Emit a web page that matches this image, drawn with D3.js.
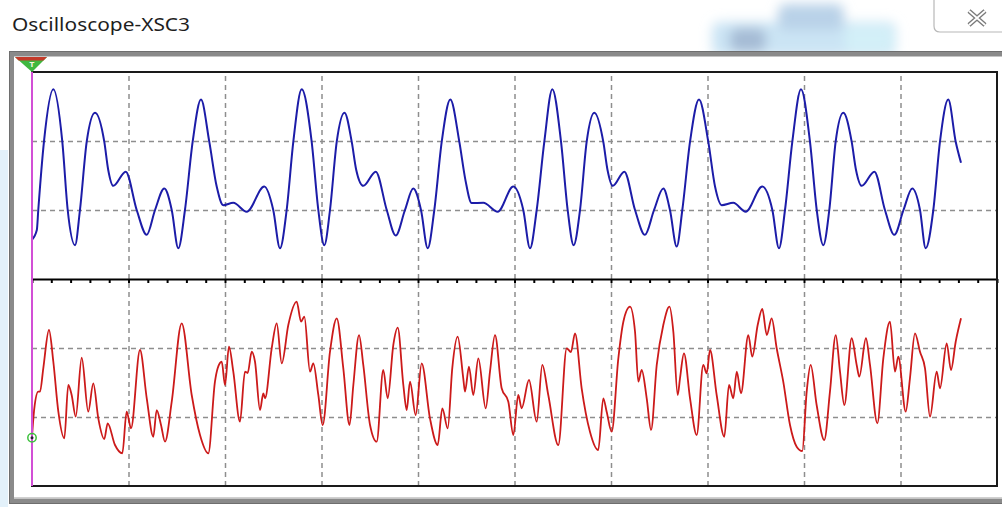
<!DOCTYPE html>
<html><head><meta charset="utf-8">
<script src="https://cdn.jsdelivr.net/npm/d3@7"></script>
<style>html,body{margin:0;padding:0;background:#fff;overflow:hidden}</style>
</head><body>
<svg id="c" width="1002" height="507"></svg>
<script>
// ---------- data (time in divisions, amplitude in divisions) ----------
const titleText = "Oscilloscope-XSC3";
const timeDivisions = [0, 10];
const ampDivisions = [-3, 3];
const gridTimes = [1, 2, 3, 4, 5, 6, 7, 8, 9];
const gridAmps = [-2, -1, 1, 2];
const channelBGround = -2.3;

const channelA = [
 [0,0.57],[0.05,0.71],[0.065,1.0],[0.124,1.99],[0.221,2.75],[0.314,1.99],[0.37,1.0],[0.446,0.49],
 [0.497,1.0],[0.567,1.99],[0.653,2.41],[0.749,1.99],[0.79,1.58],[0.842,1.35],[0.971,1.555],[1.085,1.0],
 [1.189,0.64],[1.275,1.0],[1.371,1.31],[1.448,1.0],[1.516,0.445],[1.585,1.0],[1.665,1.99],[1.751,2.6],
 [1.837,1.99],[1.914,1.34],[1.982,1.07],[2.086,1.105],[2.225,0.975],[2.407,1.34],[2.5,1.0],[2.57,0.445],
 [2.639,1.0],[2.708,1.99],[2.795,2.75],[2.898,1.99],[2.967,1.0],[3.029,0.49],[3.088,1.0],[3.158,1.99],
 [3.238,2.41],[3.313,1.99],[3.36,1.58],[3.433,1.35],[3.562,1.555],[3.676,1.0],[3.769,0.63],[3.865,1.0],
 [3.951,1.31],[4.031,1.0],[4.101,0.445],[4.169,1.0],[4.246,1.99],[4.335,2.6],[4.428,1.99],[4.492,1.43],
 [4.556,1.1],[4.677,1.105],[4.826,0.975],[4.988,1.34],[5.091,1.0],[5.161,0.445],[5.23,1.0],[5.309,1.99],
 [5.392,2.75],[5.482,1.99],[5.551,1.0],[5.613,0.49],[5.679,1.0],[5.748,1.99],[5.827,2.41],[5.92,1.99],
 [5.964,1.58],[6.018,1.35],[6.138,1.555],[6.249,1.0],[6.352,0.64],[6.446,1.0],[6.542,1.31],[6.611,1.0],
 [6.681,0.47],[6.739,1.0],[6.819,1.99],[6.912,2.6],[7.008,1.99],[7.078,1.34],[7.147,1.07],[7.267,1.105],
 [7.396,0.975],[7.568,1.34],[7.672,1.0],[7.741,0.445],[7.803,1.0],[7.879,1.99],[7.969,2.75],[8.062,1.99],
 [8.132,1.0],[8.2,0.49],[8.262,1.0],[8.328,1.99],[8.407,2.41],[8.494,1.99],[8.539,1.58],[8.598,1.35],
 [8.729,1.555],[8.839,1.0],[8.936,0.64],[9.031,1.0],[9.122,1.31],[9.202,1.0],[9.261,0.445],[9.34,1.0],
 [9.409,1.99],[9.495,2.6],[9.572,1.99],[9.627,1.685]
];

const channelB = [
 [0,-2.285],[0.024,-1.874],[0.065,-1.633],[0.083,-1.633],[0.117,-1.294],[0.176,-0.739],[0.221,-1.199],
 [0.273,-1.923],[0.335,-2.309],[0.376,-1.536],[0.411,-1.681],[0.453,-1.996],[0.515,-1.141],[0.583,-1.923],
 [0.635,-1.512],[0.687,-2.019],[0.749,-2.319],[0.784,-2.091],[0.86,-2.406],[0.936,-2.526],[0.981,-1.923],
 [1.026,-2.164],[1.119,-1.029],[1.189,-1.729],[1.257,-2.286],[1.292,-1.899],[1.337,-2.116],[1.378,-2.358],
 [1.448,-1.778],[1.551,-0.642],[1.655,-1.681],[1.741,-2.261],[1.827,-2.526],[1.896,-1.488],[1.924,-1.294],
 [1.966,-1.199],[2.0,-1.536],[2.041,-0.981],[2.086,-1.343],[2.155,-2.068],[2.207,-1.343],[2.235,-1.362],
 [2.277,-1.054],[2.311,-1.199],[2.363,-1.899],[2.397,-1.657],[2.415,-1.729],[2.484,-1.004],[2.536,-0.642],
 [2.588,-1.222],[2.656,-0.667],[2.743,-0.329],[2.788,-0.619],[2.822,-0.546],[2.881,-1.343],[2.915,-1.222],
 [2.967,-1.681],[3.012,-2.116],[3.088,-1.054],[3.158,-0.57],[3.226,-1.294],[3.29,-2.116],[3.33,-1.536],
 [3.389,-0.812],[3.433,-1.246],[3.503,-2.116],[3.572,-2.358],[3.64,-1.319],[3.686,-1.729],[3.744,-0.957],
 [3.79,-0.706],[3.848,-1.536],[3.883,-1.899],[3.917,-1.488],[3.976,-1.971],[4.038,-1.222],[4.124,-2.019],
 [4.204,-2.406],[4.252,-1.874],[4.308,-2.164],[4.355,-1.294],[4.411,-0.836],[4.469,-1.439],[4.487,-1.633],
 [4.528,-1.271],[4.573,-1.681],[4.625,-1.149],[4.702,-1.874],[4.746,-1.343],[4.798,-0.812],[4.867,-1.584],
 [4.936,-1.778],[4.988,-2.261],[5.039,-1.681],[5.074,-1.874],[5.15,-1.464],[5.23,-2.068],[5.288,-1.246],
 [5.35,-1.681],[5.454,-2.406],[5.541,-1.004],[5.585,-1.058],[5.627,-0.787],[5.696,-1.584],[5.782,-2.213],
 [5.868,-2.478],[5.92,-1.729],[5.955,-1.923],[6.007,-2.213],[6.076,-1.149],[6.128,-0.619],[6.197,-0.401],
 [6.249,-0.764],[6.283,-1.488],[6.318,-1.319],[6.37,-1.729],[6.415,-2.188],[6.474,-1.246],[6.542,-0.667],
 [6.606,-0.401],[6.646,-0.764],[6.691,-1.681],[6.715,-1.439],[6.756,-1.077],[6.819,-1.729],[6.888,-2.261],
 [6.956,-1.246],[6.992,-1.367],[7.026,-1.029],[7.095,-1.681],[7.174,-2.286],[7.223,-1.536],[7.267,-1.729],
 [7.303,-1.343],[7.347,-1.657],[7.423,-0.812],[7.464,-1.126],[7.52,-0.667],[7.568,-0.435],[7.614,-0.812],
 [7.665,-0.57],[7.717,-1.004],[7.785,-1.488],[7.855,-2.116],[7.924,-2.43],[7.982,-2.493],[8.028,-1.633],
 [8.069,-1.246],[8.131,-1.826],[8.21,-2.333],[8.269,-1.633],[8.329,-0.812],[8.373,-1.343],[8.418,-1.826],
 [8.494,-0.859],[8.546,-1.246],[8.573,-1.416],[8.642,-0.859],[8.684,-1.246],[8.76,-2.091],[8.822,-1.149],
 [8.891,-0.619],[8.943,-1.343],[8.977,-1.126],[9.054,-1.923],[9.098,-1.439],[9.15,-0.787],[9.202,-1.054],
 [9.254,-1.294],[9.306,-1.996],[9.375,-1.343],[9.409,-1.584],[9.479,-0.932],[9.523,-1.319],[9.572,-0.909],
 [9.627,-0.57]
];

// ---------- layout ----------
const svg = d3.select("#c");
const plot = {left: 32, right: 997, top: 72, bottom: 486};
const x = d3.scaleLinear().domain(timeDivisions).range([plot.left, plot.right]);
const y = d3.scaleLinear().domain(ampDivisions).range([plot.bottom, plot.top]);

const defs = svg.append("defs");
defs.append("filter").attr("id", "blur").attr("x", "-30%").attr("y", "-80%").attr("width", "160%").attr("height", "260%")
  .append("feGaussianBlur").attr("stdDeviation", 6);

svg.append("rect").attr("width", 1002).attr("height", 507).attr("fill", "#ffffff");

// window chrome
svg.append("rect").attr("x", 0).attr("y", 150).attr("width", 8).attr("height", 357).attr("fill", "#e3f1fa");
const blob = svg.append("g").attr("filter", "url(#blur)");
blob.append("rect").attr("x", 712).attr("y", 22).attr("width", 184).attr("height", 34).attr("rx", 8).attr("fill", "#cbe4f4");
blob.append("rect").attr("x", 778).attr("y", 4).attr("width", 66).attr("height", 26).attr("rx", 8).attr("fill", "#b9d2e8");
blob.append("rect").attr("x", 730).attr("y", 28).attr("width", 36).attr("height", 24).attr("rx", 8).attr("fill", "#a6bcd5");
blob.append("rect").attr("x", 845).attr("y", 26).attr("width", 48).attr("height", 26).attr("rx", 8).attr("fill", "#d3f0f8");

svg.append("path").attr("d", "M934,0 V26 Q934,32 940,32 H1002")
  .attr("fill", "none").attr("stroke", "#b8b8b8").attr("stroke-width", 1.2);
const xg = svg.append("g");
xg.append("path").attr("d", "M969,11 L985,25 M985,11 L969,25").attr("stroke", "#7a7a7a").attr("stroke-width", 4.5).attr("fill", "none");
xg.append("path").attr("d", "M969,11 L985,25 M985,11 L969,25").attr("stroke", "#ffffff").attr("stroke-width", 1.8).attr("fill", "none");

svg.append("text").attr("x", 12).attr("y", 31)
  .attr("font-family", "'Noto Sans', 'Open Sans', sans-serif").attr("font-size", 18)
  .attr("fill", "#1e1e1e").attr("textLength", 178).attr("lengthAdjust", "spacingAndGlyphs")
  .text(titleText);

// instrument frame
svg.append("rect").attr("x", 11.5).attr("y", 54).attr("width", 1100).attr("height", 447)
  .attr("fill", "#ffffff").attr("stroke", "#8a8a8a").attr("stroke-width", 5);
svg.append("rect").attr("x", 9.5).attr("y", 51.5).attr("width", 1100).attr("height", 452)
  .attr("fill", "none").attr("stroke", "#6e6e6e").attr("stroke-width", 1);
svg.append("line").attr("x1", 14).attr("x2", 1002).attr("y1", 497.5).attr("y2", 497.5)
  .attr("stroke", "#d0d0d0").attr("stroke-width", 1);

// plot area
svg.append("rect").attr("x", plot.left).attr("y", plot.top)
  .attr("width", plot.right - plot.left).attr("height", plot.bottom - plot.top).attr("fill", "#ffffff");

// grid
const gx = svg.append("g").attr("transform", `translate(0,${plot.bottom})`)
  .call(d3.axisBottom(x).tickValues(gridTimes).tickSize(-(plot.bottom - plot.top)).tickFormat(""));
gx.select(".domain").remove();
gx.selectAll(".tick line").attr("stroke", "#8e8e8e").attr("stroke-width", 1.5).attr("stroke-dasharray", "5,4");

const gy = svg.append("g").attr("transform", `translate(${plot.left},0)`)
  .call(d3.axisLeft(y).tickValues(gridAmps).tickSize(-(plot.right - plot.left)).tickFormat(""));
gy.select(".domain").remove();
gy.selectAll(".tick line").attr("stroke", "#8e8e8e").attr("stroke-width", 1.5).attr("stroke-dasharray", "5,4");

// centre axis with minor ticks
const gc = svg.append("g").attr("transform", `translate(0,${y(0)})`)
  .call(d3.axisBottom(x).tickValues(d3.range(0, 10.001, 0.2)).tickSize(4).tickSizeOuter(0).tickFormat(""));
gc.select(".domain").attr("stroke", "#000").attr("stroke-width", 2);
gc.selectAll(".tick line").attr("stroke", "#000").attr("stroke-width", 2);

// plot border
svg.append("rect").attr("x", plot.left).attr("y", plot.top)
  .attr("width", plot.right - plot.left).attr("height", plot.bottom - plot.top)
  .attr("fill", "none").attr("stroke", "#1a1a1a").attr("stroke-width", 2);

// traces
const lineA = d3.line().x(d => x(d[0])).y(d => y(d[1])).curve(d3.curveMonotoneX);
const lineB = d3.line().x(d => x(d[0])).y(d => y(d[1])).curve(d3.curveMonotoneX);
svg.append("path").datum(channelA).attr("d", lineA)
  .attr("fill", "none").attr("stroke", "#1c1ca8").attr("stroke-width", 2).attr("stroke-linejoin", "round");
svg.append("path").datum(channelB).attr("d", lineB)
  .attr("fill", "none").attr("stroke", "#cc1a1a").attr("stroke-width", 1.8).attr("stroke-linejoin", "round");

// trigger cursor
svg.append("line").attr("x1", x(0)).attr("x2", x(0)).attr("y1", plot.top).attr("y2", plot.bottom)
  .attr("stroke", "#d24fd6").attr("stroke-width", 2);

// channel B ground marker
svg.append("circle").attr("cx", x(0)).attr("cy", y(channelBGround)).attr("r", 4.2)
  .attr("fill", "none").attr("stroke", "#3cc03c").attr("stroke-width", 1.5);
svg.append("circle").attr("cx", x(0)).attr("cy", y(channelBGround)).attr("r", 1.5).attr("fill", "#223");

// trigger marker
const tx = x(0);
svg.append("path").attr("d", `M${tx - 17},57 L${tx + 15},57 L${tx},${plot.top} Z`).attr("fill", "#3fb83f");
svg.append("path").attr("d", `M${tx - 17},57 L${tx + 15},57 L${tx + 11.5},60.5 L${tx - 13.5},60.5 Z`).attr("fill", "#c43a2a");
svg.append("text").attr("x", tx).attr("y", 66.5).attr("text-anchor", "middle")
  .attr("font-family", "'DejaVu Sans', sans-serif").attr("font-size", 7).attr("font-weight", "bold")
  .attr("fill", "#f4f4e0").text("T");
</script>
</body></html>
